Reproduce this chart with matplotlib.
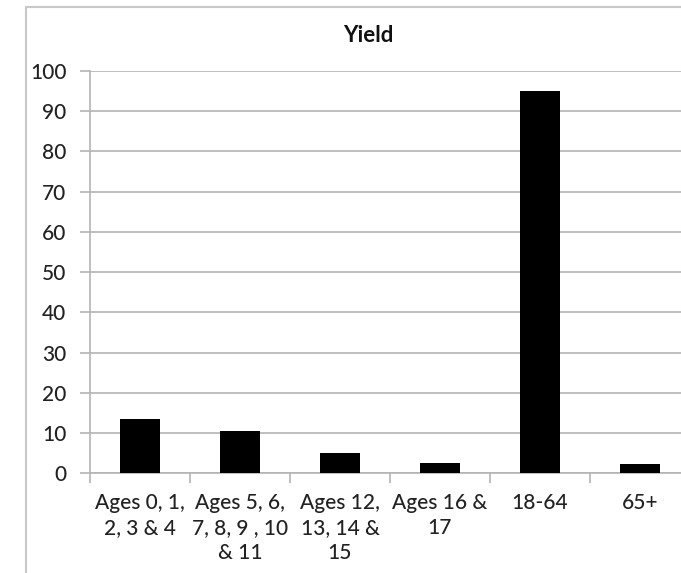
import matplotlib.pyplot as plt
from matplotlib.patches import Rectangle

groups = ["Ages 0, 1,\n2, 3 & 4", "Ages 5, 6,\n7, 8, 9 , 10\n& 11", "Ages 12,\n13, 14 &\n15",
          "Ages 16 &\n17", "18-64", "65+"]
yield_pct = [13.5, 10.4, 5.0, 2.6, 95.0, 2.2]
yticks = list(range(0, 101, 10))

plt.rcParams['font.family'] = ['Lato', 'DejaVu Sans']
W, H = 681, 573
fig = plt.figure(figsize=(W / 100, H / 100), dpi=100)

# chart frame
fig.patches.append(Rectangle((26 / W, -0.2), 1.2, 1.2 - 7 / H, transform=fig.transFigure,
                             fill=False, edgecolor='#c8c8c8', linewidth=1.5))

# plot area runs past the right edge, like the cropped original
ax = fig.add_axes([90 / W, 1 - 473.3 / H, 600 / W, 402.3 / H])
x = range(len(groups))
ax.bar(x, yield_pct, width=0.4, color='black', zorder=3)

ax.set_xlim(-0.5, len(groups) - 0.5)
ax.set_ylim(0, 100)
ax.set_yticks(yticks)
ax.yaxis.grid(True, color='#b4b4b4', linewidth=1.2, zorder=0)
ax.set_xticks([i - 0.5 for i in range(len(groups) + 1)])
ax.set_xticklabels([])
ax.set_xticks(list(x), minor=True)
ax.set_xticklabels(groups, minor=True, fontsize=15, color='#222222', linespacing=1.33,
                   va='top', fontweight='medium')
ax.tick_params(axis='x', which='major', length=7, color='#b4b4b4', width=1.2)
ax.tick_params(axis='x', which='minor', length=0, pad=14)
ax.tick_params(axis='y', length=7, color='#b4b4b4', width=1.2, labelsize=15,
               labelcolor='#222222', pad=10)
for lbl in ax.get_yticklabels():
    lbl.set_fontweight('medium')
for side in ['top', 'right']:
    ax.spines[side].set_visible(False)
for side in ['left', 'bottom']:
    ax.spines[side].set_color('#b4b4b4')
    ax.spines[side].set_linewidth(1.2)

fig.text(368 / W, 1 - 35 / H, "Yield", ha='center', va='center', fontsize=16,
         fontweight='bold', color='#111111')

fig.savefig("out.png", dpi=100)
